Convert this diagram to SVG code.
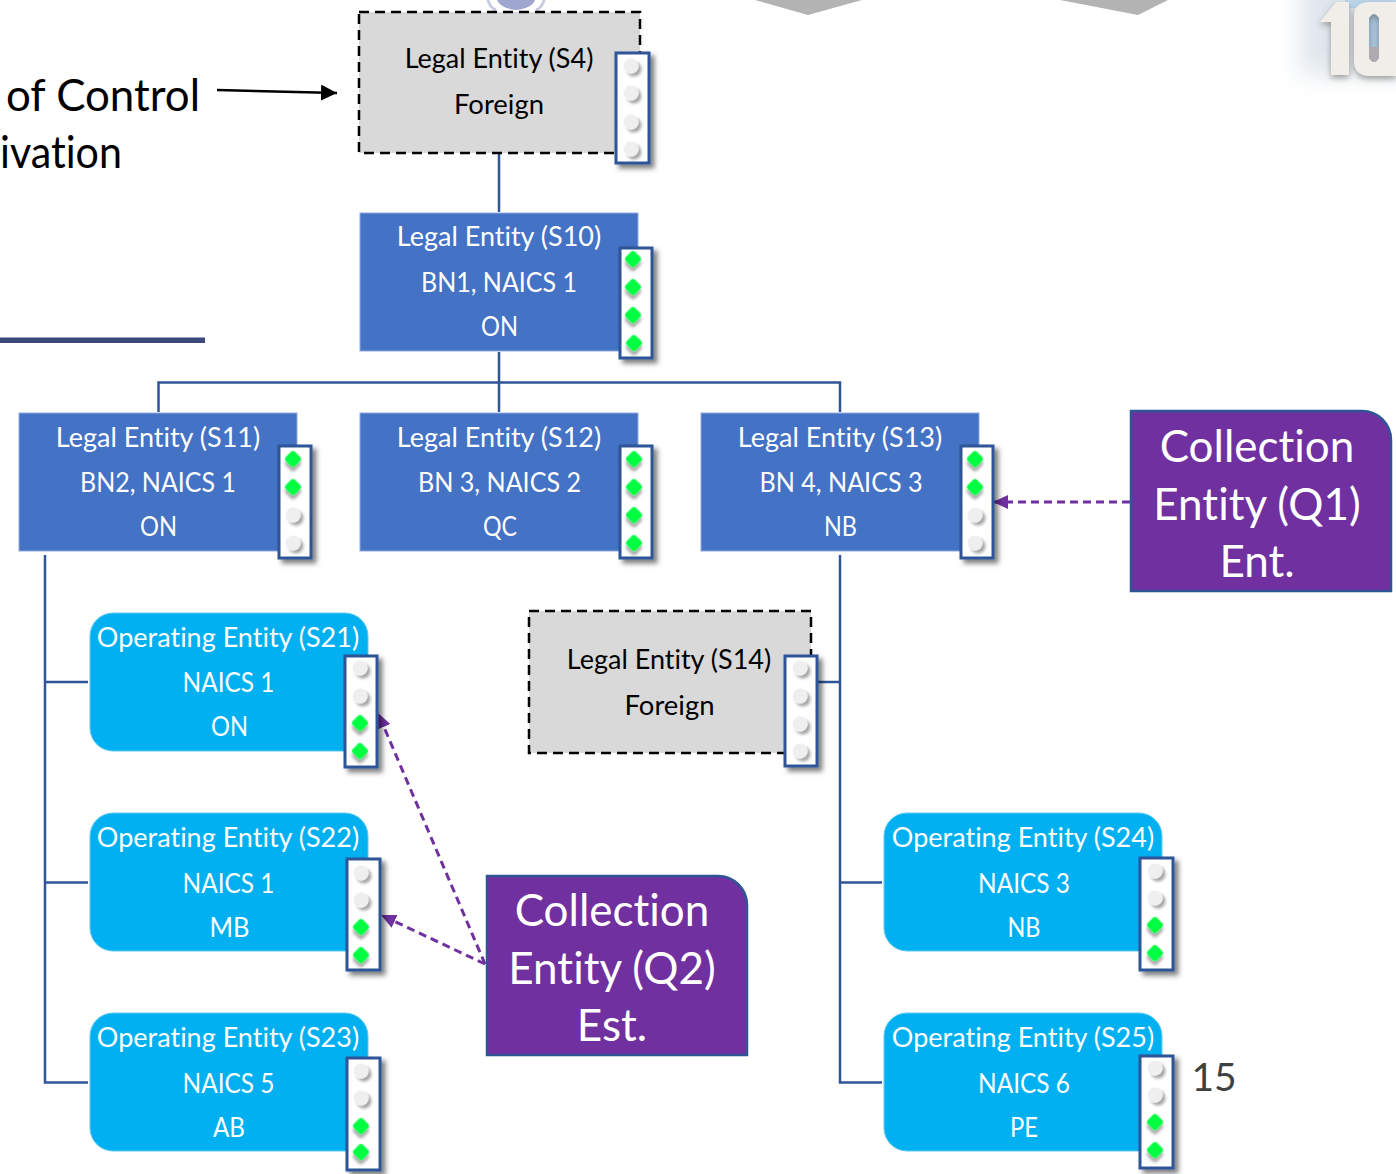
<svg xmlns="http://www.w3.org/2000/svg" width="1396" height="1174" viewBox="0 0 1396 1174">
<style>
text{font-family:"Lato","Carlito","Liberation Sans",sans-serif;text-anchor:middle;font-variant-ligatures:none}
.t{font-size:27px;fill:#fff;transform:translateY(1px)}
.k{font-size:27px;fill:#000;transform:translateY(1px)}
.big{font-size:44px;fill:#fff;transform:translateY(1px)}
.side{font-size:45px;fill:#000}
.le{fill:#4472C4;stroke:#8FAADC;stroke-width:1}
.oe{fill:#00B0F0;stroke:#5CCBF5;stroke-width:1}
.fo{fill:#D9D9D9;stroke:#000;stroke-width:2.5;stroke-dasharray:10 6}
.ce{fill:#7030A0;stroke:#2F5597;stroke-width:2.5}
.pn{fill:#fff;stroke:#2F5597;stroke-width:3}
.cn{fill:none;stroke:#2F5597;stroke-width:2.5}
.cp{fill:none;stroke:#7030A0;stroke-width:3;stroke-dasharray:8 5}
</style>
<defs>
<filter id="sh" x="-40%" y="-20%" width="190%" height="140%"><feDropShadow dx="4" dy="4" stdDeviation="2.5" flood-color="#000" flood-opacity=".5"/></filter>
<filter id="ls" x="-60%" y="-60%" width="240%" height="240%"><feDropShadow dx="3" dy="3" stdDeviation="1.6" flood-color="#000" flood-opacity=".35"/></filter>
<filter id="gl" x="-60%" y="-60%" width="220%" height="220%"><feGaussianBlur stdDeviation="12"/></filter>
<filter id="ds" x="-30%" y="-30%" width="160%" height="160%"><feDropShadow dx="0" dy="3" stdDeviation="3" flood-color="#555" flood-opacity=".55"/></filter>
<rect id="on" x="-6.500" y="-6.500" width="13" height="13" rx="3" fill="#00FF40" transform="rotate(45)" filter="url(#ls)"/>
<circle id="off" r="7.500" fill="#EFEFEF" filter="url(#ls)"/>
<marker id="ak" markerWidth="17" markerHeight="16" refX="16" refY="8" orient="auto" markerUnits="userSpaceOnUse"><path d="M0 0L16 8L0 16Z" fill="#000"/></marker>
<marker id="ap" markerWidth="16" markerHeight="14" refX="15" refY="7" orient="auto" markerUnits="userSpaceOnUse"><path d="M0 0L15 7L0 14Z" fill="#7030A0"/></marker>
</defs>
<rect width="1396" height="1174" fill="#fff"/>
<g id="background">
<path d="M488 0Q490 8 496 10M544 0Q542 8 536 10" fill="none" stroke="#C9CBE3" stroke-width="3"/>
<path d="M497 0Q500 8 516 10Q532 8 535 0Z" fill="#9FA6D0"/>
<path d="M755 0L808 15L862 0Z" fill="#B3B3B3"/>
<path d="M1060 0L1138 15L1168 0Z" fill="#B3B3B3"/>
<rect x="1300" y="-30" width="110" height="105" fill="#C6D2DC" filter="url(#gl)" opacity=".55"/>
<rect x="1345" y="0" width="51" height="8" fill="#BBD6EA"/>
<rect x="1366" y="10" width="16" height="56" fill="#A9C6DE"/>
<g filter="url(#ds)"><path d="M1320 22L1336 2H1349V75H1331V22Z" fill="#F1EEEA"/>
<path d="M1354 16Q1354 2 1370 2H1396V76H1370Q1354 76 1354 60ZM1369 18V58Q1374 66 1379 58V18Q1374 10 1369 18Z" fill="#F1EEEA" fill-rule="evenodd"/></g>
<path d="M1369 47V58Q1374 66 1379 58V47Z" fill="#AFAAB0"/>
</g>
<g id="side-label">
<text class="side" x="6" y="111" style="text-anchor:start" textLength="194" lengthAdjust="spacingAndGlyphs">of Control</text>
<text class="side" x="122" y="168" style="text-anchor:end" textLength="122" lengthAdjust="spacingAndGlyphs">ivation</text>
<rect x="0" y="337.500" width="205" height="5.500" fill="#3B4A7A"/>
</g>
<g id="connectors">
<path class="cn" d="M499 153V212M499 352V412M158.500 412V382.500H840V412"/>
<path class="cn" d="M45 555V1082.500H88M45 682H88M45 882.500H88"/>
<path class="cn" d="M840 555V1082.500H882M840 882.500H882M817 682H840"/>
<path d="M217 90L337 93" fill="none" stroke="#000" stroke-width="2.500" marker-end="url(#ak)"/>
<path class="cp" d="M1130 502H993" marker-end="url(#ap)"/>
<path class="cp" d="M485 964L378 713" marker-end="url(#ap)"/>
<path class="cp" d="M485 964L381 915" marker-end="url(#ap)"/>
</g>
<g id="S4"><rect class="fo" x="359" y="12" width="281" height="141"/><text class="k" x="499" y="67">Legal Entity (S4)</text><text class="k" x="499" y="113" textLength="90" lengthAdjust="spacingAndGlyphs">Foreign</text>
<rect class="pn" x="616" y="53" width="33" height="110" filter="url(#sh)"/><use href="#off" x="631" y="66"/><use href="#off" x="631" y="93"/><use href="#off" x="631" y="122"/><use href="#off" x="631" y="149"/></g>
<g id="S10"><rect class="le" x="360" y="213" width="278" height="138"/><text class="t" x="499" y="245">Legal Entity (S10)</text><text class="t" x="499" y="291" textLength="156" lengthAdjust="spacingAndGlyphs">BN1, NAICS 1</text><text class="t" x="499.500" y="335" textLength="37" lengthAdjust="spacingAndGlyphs">ON</text>
<rect class="pn" x="620" y="248" width="32" height="110" filter="url(#sh)"/><use href="#on" x="633" y="259"/><use href="#on" x="633" y="287"/><use href="#on" x="633" y="315"/><use href="#on" x="634" y="343"/></g>
<g id="S11"><rect class="le" x="19" y="413" width="278" height="138"/><text class="t" x="158" y="446">Legal Entity (S11)</text><text class="t" x="158" y="491" textLength="156" lengthAdjust="spacingAndGlyphs">BN2, NAICS 1</text><text class="t" x="158.500" y="535" textLength="37" lengthAdjust="spacingAndGlyphs">ON</text>
<rect class="pn" x="279" y="446" width="32" height="112" filter="url(#sh)"/><use href="#on" x="293" y="459"/><use href="#on" x="293" y="487"/><use href="#off" x="293" y="515"/><use href="#off" x="293" y="543"/></g>
<g id="S12"><rect class="le" x="360" y="413" width="278" height="138"/><text class="t" x="499" y="446">Legal Entity (S12)</text><text class="t" x="499.500" y="491" textLength="163" lengthAdjust="spacingAndGlyphs">BN 3, NAICS 2</text><text class="t" x="500" y="535" textLength="34" lengthAdjust="spacingAndGlyphs">QC</text>
<rect class="pn" x="620" y="446" width="32" height="112" filter="url(#sh)"/><use href="#on" x="634" y="459"/><use href="#on" x="634" y="487"/><use href="#on" x="634" y="515"/><use href="#on" x="634" y="543"/></g>
<g id="S13"><rect class="le" x="701" y="413" width="278" height="138"/><text class="t" x="840" y="446">Legal Entity (S13)</text><text class="t" x="841" y="491" textLength="163" lengthAdjust="spacingAndGlyphs">BN 4, NAICS 3</text><text class="t" x="840.500" y="535" textLength="33" lengthAdjust="spacingAndGlyphs">NB</text>
<rect class="pn" x="961" y="446" width="32" height="112" filter="url(#sh)"/><use href="#on" x="975" y="459"/><use href="#on" x="975" y="487"/><use href="#off" x="975" y="515"/><use href="#off" x="975" y="543"/></g>
<g id="Q1"><path class="ce" d="M1131 411H1362A29 29 0 0 1 1391 440V591H1131Z"/><text class="big" x="1257" y="461">Collection</text><text class="big" x="1257" y="519">Entity (Q1)</text><text class="big" x="1257" y="576">Ent.</text></g>
<g id="S14"><rect class="fo" x="529" y="611" width="282" height="142"/><text class="k" x="669" y="668">Legal Entity (S14)</text><text class="k" x="669.500" y="714" textLength="90" lengthAdjust="spacingAndGlyphs">Foreign</text>
<rect class="pn" x="785" y="656" width="32" height="110" filter="url(#sh)"/><use href="#off" x="800" y="668"/><use href="#off" x="800" y="696"/><use href="#off" x="800" y="724"/><use href="#off" x="800" y="751"/></g>
<g id="S21"><rect class="oe" x="90" y="613" width="278" height="138" rx="23"/><text class="t" x="228" y="646">Operating Entity (S21)</text><text class="t" x="228.500" y="691" textLength="92" lengthAdjust="spacingAndGlyphs">NAICS 1</text><text class="t" x="229.500" y="735" textLength="37" lengthAdjust="spacingAndGlyphs">ON</text>
<rect class="pn" x="345" y="656" width="32" height="111" filter="url(#sh)"/><use href="#off" x="360" y="668"/><use href="#off" x="360" y="696"/><use href="#on" x="360" y="723"/><use href="#on" x="360" y="751"/></g>
<g id="S22"><rect class="oe" x="90" y="813" width="278" height="138" rx="23"/><text class="t" x="228" y="846">Operating Entity (S22)</text><text class="t" x="228.500" y="892" textLength="92" lengthAdjust="spacingAndGlyphs">NAICS 1</text><text class="t" x="229.500" y="936" textLength="40" lengthAdjust="spacingAndGlyphs">MB</text>
<rect class="pn" x="347" y="859" width="33" height="111" filter="url(#sh)"/><use href="#off" x="361" y="873"/><use href="#off" x="361" y="900"/><use href="#on" x="361" y="927"/><use href="#on" x="361" y="955"/></g>
<g id="S23"><rect class="oe" x="90" y="1013" width="278" height="138" rx="23"/><text class="t" x="228" y="1046">Operating Entity (S23)</text><text class="t" x="228.500" y="1092" textLength="92" lengthAdjust="spacingAndGlyphs">NAICS 5</text><text class="t" x="229" y="1136" textLength="32" lengthAdjust="spacingAndGlyphs">AB</text>
<rect class="pn" x="347" y="1058" width="33" height="112" filter="url(#sh)"/><use href="#off" x="361" y="1071"/><use href="#off" x="361" y="1098"/><use href="#on" x="361" y="1126"/><use href="#on" x="361" y="1152"/></g>
<g id="S24"><rect class="oe" x="884" y="813" width="278" height="138" rx="23"/><text class="t" x="1023" y="846">Operating Entity (S24)</text><text class="t" x="1024" y="892" textLength="92" lengthAdjust="spacingAndGlyphs">NAICS 3</text><text class="t" x="1024" y="936" textLength="33" lengthAdjust="spacingAndGlyphs">NB</text>
<rect class="pn" x="1140" y="858" width="33" height="112" filter="url(#sh)"/><use href="#off" x="1155" y="871"/><use href="#off" x="1155" y="898"/><use href="#on" x="1155" y="925"/><use href="#on" x="1155" y="953"/></g>
<g id="S25"><rect class="oe" x="884" y="1013" width="278" height="138" rx="23"/><text class="t" x="1023" y="1046">Operating Entity (S25)</text><text class="t" x="1024" y="1092" textLength="92" lengthAdjust="spacingAndGlyphs">NAICS 6</text><text class="t" x="1024" y="1136" textLength="28" lengthAdjust="spacingAndGlyphs">PE</text>
<rect class="pn" x="1140" y="1056" width="33" height="112" filter="url(#sh)"/><use href="#off" x="1155" y="1068"/><use href="#off" x="1155" y="1095"/><use href="#on" x="1155" y="1122"/><use href="#on" x="1155" y="1150"/></g>
<g id="Q2"><path class="ce" d="M487 876H718A29 29 0 0 1 747 905V1055H487Z"/><text class="big" x="612" y="925">Collection</text><text class="big" x="612" y="983">Entity (Q2)</text><text class="big" x="612" y="1040">Est.</text></g>
<text x="1214" y="1091" style="font-size:39px;fill:#404040">15</text>
</svg>
